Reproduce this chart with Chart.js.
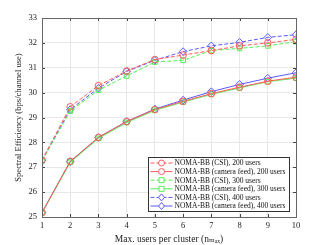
<!DOCTYPE html>
<html>
<head>
<meta charset="utf-8">
<script src="https://cdn.jsdelivr.net/npm/chart.js@4.4.0/dist/chart.umd.min.js"></script>
<style>
  html, body { margin: 0; padding: 0; background: #fff; }
  #wrap { width: 327px; height: 245px; }
</style>
</head>
<body>
<div id="wrap"><canvas id="c" width="327" height="245"></canvas></div>
<script>
// 데이터
const clusterSizes = [1, 2, 3, 4, 5, 6, 7, 8, 9, 10];
const yTicks = [25, 26, 27, 28, 29, 30, 31, 32, 33];

const csi200 = [27.28, 29.43, 30.28, 30.87, 31.33, 31.51, 31.69, 31.88, 32.00, 32.14];
const cam200 = [25.18, 27.24, 28.20, 28.84, 29.32, 29.65, 29.96, 30.22, 30.46, 30.62];
const csi300 = [27.25, 29.26, 30.10, 30.67, 31.23, 31.30, 31.69, 31.78, 31.88, 32.05];
const cam300 = [25.16, 27.20, 28.16, 28.80, 29.29, 29.62, 29.93, 30.19, 30.44, 30.58];
const csi400 = [27.28, 29.32, 30.18, 30.85, 31.30, 31.65, 31.88, 32.02, 32.22, 32.33];
const cam400 = [25.18, 27.22, 28.20, 28.84, 29.34, 29.70, 30.04, 30.33, 30.58, 30.80];

const labels = [
    'NOMA-BB (CSI), 200 users',
    'NOMA-BB (camera feed), 200 users',
    'NOMA-BB (CSI), 300 users',
    'NOMA-BB (camera feed), 300 users',
    'NOMA-BB (CSI), 400 users',
    'NOMA-BB (camera feed), 400 users'
];

const RED = '#ff5a5a', GREEN = '#55ee55', BLUE = '#5a5aff';
const FONT = '"Liberation Serif", "DejaVu Serif", serif';

function makeSet(label, values, color, dashed, marker) {
    return {
        label: label,
        data: values.map((v, i) => ({ x: clusterSizes[i], y: v })),
        borderColor: color,
        backgroundColor: 'rgba(0,0,0,0)',
        borderWidth: 1,
        borderDash: dashed ? [4, 2] : [],
        pointStyle: marker,
        pointRadius: marker === 'rectRot' ? 3.8 : 3.3,
        pointBorderColor: color,
        pointBackgroundColor: 'rgba(0,0,0,0)',
        pointBorderWidth: 1,
        tension: 0
    };
}

// 안쪽 눈금, 테두리, 범례
const frame = {
    id: 'frame',
    afterDatasetsDraw(chart) {
        const ctx = chart.ctx;
        const a = chart.chartArea;
        const xs = chart.scales.x, ys = chart.scales.y;
        ctx.save();
        ctx.strokeStyle = '#444';
        ctx.lineWidth = 1;
        ctx.beginPath();
        clusterSizes.forEach(v => {
            const px = Math.round(xs.getPixelForValue(v)) + 0.5;
            ctx.moveTo(px, a.bottom); ctx.lineTo(px, a.bottom - 3);
            ctx.moveTo(px, a.top); ctx.lineTo(px, a.top + 3);
        });
        yTicks.forEach(v => {
            const py = Math.round(ys.getPixelForValue(v)) + 0.5;
            ctx.moveTo(a.left, py); ctx.lineTo(a.left + 3, py);
            ctx.moveTo(a.right, py); ctx.lineTo(a.right - 3, py);
        });
        ctx.stroke();
        ctx.strokeStyle = '#666';
        ctx.strokeRect(Math.round(a.left) + 0.5, Math.round(a.top) + 0.5,
                       Math.round(a.right - a.left), Math.round(a.bottom - a.top));

        // 범례
        const bx = 148.5, by = 157.5, bw = 141, bh = 54;
        ctx.fillStyle = '#fff';
        ctx.fillRect(bx, by, bw, bh);
        ctx.strokeStyle = '#333';
        ctx.strokeRect(bx, by, bw, bh);
        ctx.font = '7.5px ' + FONT;
        ctx.textBaseline = 'middle';
        chart.data.datasets.forEach((ds, i) => {
            const y = by + 5.5 + i * 8.6;
            ctx.strokeStyle = ds.borderColor;
            ctx.setLineDash(ds.borderDash);
            ctx.beginPath();
            ctx.moveTo(bx + 2, y); ctx.lineTo(bx + 24, y);
            ctx.stroke();
            ctx.setLineDash([]);
            const cx = bx + 13;
            ctx.beginPath();
            if (ds.pointStyle === 'circle') {
                ctx.arc(cx, y, 3, 0, Math.PI * 2);
            } else if (ds.pointStyle === 'rect') {
                ctx.rect(cx - 2.5, y - 2.5, 5, 5);
            } else {
                ctx.moveTo(cx, y - 3.5); ctx.lineTo(cx + 3, y);
                ctx.lineTo(cx, y + 3.5); ctx.lineTo(cx - 3, y); ctx.closePath();
            }
            ctx.fillStyle = '#fff';
            ctx.fill();
            ctx.stroke();
            ctx.fillStyle = '#111';
            ctx.fillText(ds.label, bx + 26, y + 0.5);
        });
        ctx.restore();
    }
};

new Chart(document.getElementById('c'), {
    type: 'line',
    data: {
        datasets: [
            makeSet(labels[0], csi200, RED, true, 'circle'),
            makeSet(labels[1], cam200, RED, false, 'circle'),
            makeSet(labels[2], csi300, GREEN, true, 'rect'),
            makeSet(labels[3], cam300, GREEN, false, 'rect'),
            makeSet(labels[4], csi400, BLUE, true, 'rectRot'),
            makeSet(labels[5], cam400, BLUE, false, 'rectRot')
        ]
    },
    options: {
        responsive: false,
        animation: false,
        layout: { padding: { left: 14, right: 31, top: 18, bottom: 0 } },
        plugins: { legend: { display: false }, tooltip: { enabled: false } },
        scales: {
            x: {
                type: 'linear',
                min: 1, max: 10,
                afterFit(s) { s.height = 28; },
                afterBuildTicks(s) { s.ticks = clusterSizes.map(v => ({ value: v })); },
                grid: { color: '#e8e8e8', drawTicks: false },
                border: { display: false },
                ticks: { color: '#222', padding: 4, font: { family: FONT, size: 8.5 }, maxRotation: 0 },
                title: {
                    display: true,
                    text: 'Max. users per cluster (nₘₐₓ)',
                    color: '#222',
                    font: { family: FONT, size: 9.5 },
                    padding: { top: 0, bottom: 0 }
                }
            },
            y: {
                min: 25, max: 33,
                afterFit(s) { s.width = 28; },
                afterBuildTicks(s) { s.ticks = yTicks.map(v => ({ value: v })); },
                grid: { color: '#e8e8e8', drawTicks: false },
                border: { display: false },
                ticks: { color: '#222', padding: 5, font: { family: FONT, size: 8.5 } },
                title: {
                    display: true,
                    text: 'Spectral Efficiency (bps/channel use)',
                    color: '#222',
                    font: { family: FONT, size: 8.6 },
                    padding: { top: 0, bottom: 0 }
                }
            }
        }
    },
    plugins: [frame]
});
</script>
</body>
</html>
